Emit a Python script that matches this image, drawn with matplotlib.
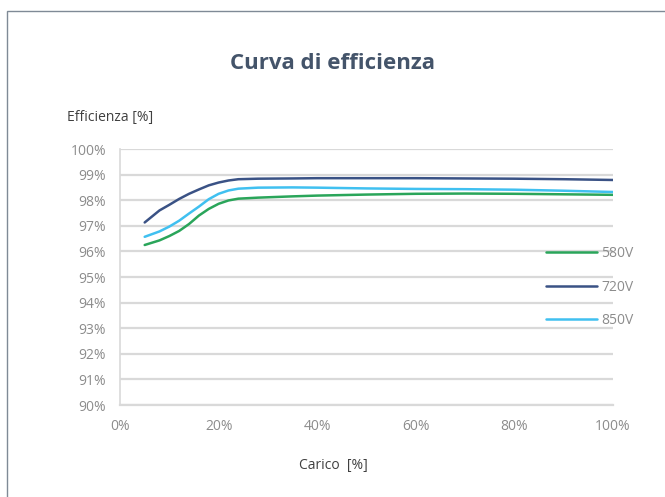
import numpy as np
import matplotlib.pyplot as plt
from matplotlib.patches import Rectangle

plt.rcParams['font.family'] = ['Open Sans', 'DejaVu Sans']

# carico [%]
load = [5, 8, 10, 12, 14, 16, 18, 20, 22, 24, 28, 35, 40, 50, 60, 70, 80, 90, 100]
eff_580 = [96.25, 96.43, 96.6, 96.8, 97.07, 97.4, 97.66, 97.86, 97.99, 98.06,
           98.1, 98.15, 98.18, 98.22, 98.25, 98.26, 98.25, 98.23, 98.21]
eff_720 = [97.13, 97.6, 97.82, 98.05, 98.25, 98.42, 98.58, 98.69, 98.77, 98.82,
           98.84, 98.85, 98.86, 98.86, 98.86, 98.85, 98.84, 98.82, 98.79]
eff_850 = [96.57, 96.78, 96.97, 97.2, 97.48, 97.75, 98.04, 98.25, 98.38, 98.45,
           98.49, 98.5, 98.49, 98.46, 98.44, 98.43, 98.41, 98.37, 98.32]
series_names = ['580V', '720V', '850V']
colors = ['#2aa55a', '#3a5285', '#40c0f0']

xticks = [0, 20, 40, 60, 80, 100]
yticks = list(range(90, 101))

fig = plt.figure(figsize=(6.65, 4.97), dpi=100)
ax = fig.add_axes([0.1805, 0.1851, 0.7414, 0.5151])

# frame round the chart
fig.patches.append(Rectangle((7 / 665, -0.05), 1.1, 1 - 11 / 497 + 0.05,
                             transform=fig.transFigure, fill=False,
                             edgecolor='#7f8a96', linewidth=1.0))

for y, name, c in zip([eff_580, eff_720, eff_850], series_names, colors):
    ax.plot(load, y, color=c, linewidth=1.8, label=name,
            solid_capstyle='round', solid_joinstyle='round')

ax.set_xlim(0, 100)
ax.set_ylim(90, 100)
ax.set_xticks(xticks)
ax.set_xticklabels([f'{v}%' for v in xticks])
ax.set_yticks(yticks)
ax.set_yticklabels([f'{v}%' for v in yticks])
ax.grid(axis='y', color='#d9d9d9', linewidth=1.6)
ax.set_axisbelow(True)
for s in ['top', 'right']:
    ax.spines[s].set_visible(False)
ax.spines['left'].set_color('#d9d9d9')
ax.spines['bottom'].set_color('#d9d9d9')
ax.spines['left'].set_linewidth(1.2)
ax.spines['bottom'].set_linewidth(1.6)
ax.tick_params(length=0, colors='#8c8c8c', labelsize=10, pad=10)
ax.tick_params(axis='x', pad=10)

leg = ax.legend(loc='upper left', bbox_to_anchor=(0.838, 0.669), frameon=False,
                handlelength=3.7, handletextpad=0.3, labelspacing=1.33,
                fontsize=10)
for t in leg.get_texts():
    t.set_color('#8c8c8c')

fig.text(0.5, 0.873, 'Curva di efficienza', ha='center', va='center',
         fontsize=16, fontweight='bold', color='#44546a')
fig.text(67 / 665, 1 - 118 / 497, 'Efficienza [%]', ha='left', va='center',
         fontsize=10, color='#404040')
fig.text(333 / 665, 1 - 466 / 497, 'Carico  [%]', ha='center', va='center',
         fontsize=10, color='#404040')

fig.savefig('out.png', dpi=100)
